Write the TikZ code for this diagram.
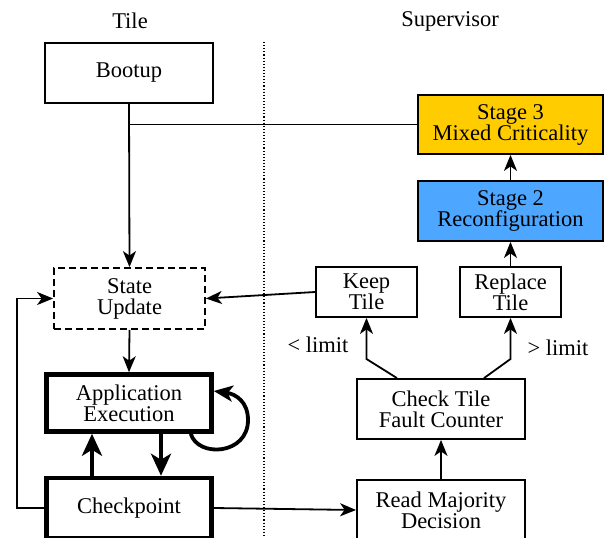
\documentclass[tikz,border=0pt]{standalone}
\usepackage{fontspec}
\setmainfont{Liberation Serif}
\usetikzlibrary{arrows.meta,calc}
\definecolor{stagegold}{RGB}{255,204,0}
\definecolor{stageblue}{RGB}{77,166,255}
\begin{document}
\begin{tikzpicture}[x=1pt,y=-1pt,
  every node/.style={font=\fontsize{22.5}{21}\selectfont, align=center},
  box/.style={draw, line width=1.8pt, inner sep=0pt},
  thickbox/.style={draw, line width=4.5pt, inner sep=0pt},
  conn/.style={line width=1.8pt, -{Stealth[length=16pt,width=13pt,inset=4.5pt]}},
  thickconn/.style={line width=4.2pt, -{Stealth[length=22pt,width=20pt,inset=6pt]}},
  plain/.style={line width=1.8pt}]
\useasboundingbox (0,0) rectangle (608,538);
\node (tile) at (130,21) {Tile};
\node (sup) at (450,21) {Supervisor};
\coordinate (dtop) at (264,42);
\coordinate (dbot) at (264,538);
\draw[dotted, line width=1.1pt] (dtop) -- (dbot);

\node[box, minimum width=168pt, minimum height=60pt] (boot) at (129,73) {Bootup};
\node[box, fill=stagegold, minimum width=185pt, minimum height=59pt] (s3) at (510.5,124.5) {Stage 3\\Mixed Criticality};
\node[box, fill=stageblue, minimum width=185pt, minimum height=60pt] (s2) at (510.5,211) {Stage 2\\Reconfiguration};
\node[box, dashed, dash pattern=on 7pt off 4pt, minimum width=151pt, minimum height=61pt] (su) at (129.5,298.5) {State\\Update};
\node[box, minimum width=101pt, minimum height=50pt] (keep) at (366.5,292) {Keep\\Tile};
\node[box, minimum width=101pt, minimum height=50pt] (repl) at (510.5,292) {Replace\\Tile};
\node[thickbox, minimum width=165pt, minimum height=57pt] (app) at (129,403) {Application\\Execution};
\node[thickbox, minimum width=165pt, minimum height=60pt] (chk) at (129,508) {Checkpoint};
\node[box, minimum width=168pt, minimum height=60pt] (cnt) at (441,409) {Check Tile\\Fault Counter};
\node[box, minimum width=168pt, minimum height=60pt] (rmd) at (441,510) {Read Majority\\Decision};
\node (lt) at (318,345) {< limit};
\node (gt) at (558,348) {> limit};

% Bootup / Stage 3 to State Update
\coordinate (join) at (boot.south |- s3.west);
\draw[plain] (s3.west) -- (join);
\draw[conn] (boot.south) -- (su.north);
% stages
\draw[conn] (s2.north) -- (s3.south);
\draw[conn] (repl.north) -- (s2.south);
% keep tile to state update
\draw[conn] (keep.west) -- (su.east);
% state update to app
\draw[conn] (su.south) -- (app.north);
% app <-> checkpoint
\draw[thickconn] ($(chk.north)+(-37,0)$) -- ($(app.south)+(-37,0)$);
\draw[thickconn] ($(app.south)+(32,0)$) -- ($(chk.north)+(32,0)$);
% self loop
\coordinate (ls) at ($(app.south east)+(-23,0)$);
\coordinate (le) at ($(app.east)+(0,-12)$);
\draw[line width=3.8pt, -{Stealth[length=19pt,width=16pt,inset=5pt]}] (ls) .. controls (198,458) and (248,455) .. (248,420) .. controls (248,402) and (236,394) .. (le);
% checkpoint back to state update
\coordinate (lc1) at (17,508);
\coordinate (lc2) at (17,298.5);
\draw[conn] (chk.west) -- (lc1) -- (lc2) -- (su.west);
% checkpoint to read majority
\draw[conn] (chk.east) -- (rmd.west);
\draw[conn] (rmd.north) -- (cnt.south);
% counter to keep / replace
\coordinate (kb) at (366.5,359);
\coordinate (rb) at (510.5,359);
\draw[conn] ($(cnt.north)+(-44,0)$) -- (kb) -- (keep.south);
\draw[conn] ($(cnt.north)+(43,0)$) -- (rb) -- (repl.south);
\end{tikzpicture}
\end{document}
